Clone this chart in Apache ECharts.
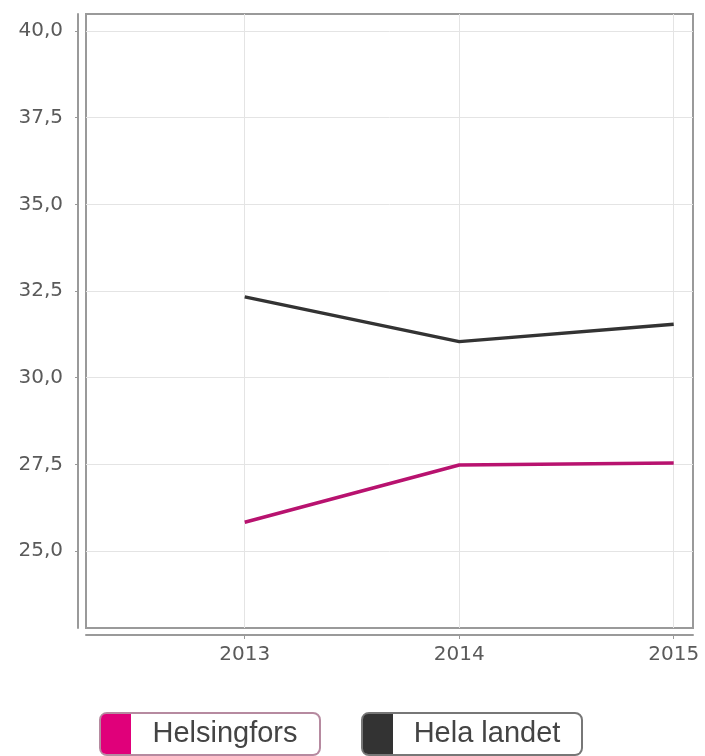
<!DOCTYPE html>
<html>
<head>
<meta charset="utf-8">
<script src="https://cdn.jsdelivr.net/npm/echarts@6/dist/echarts.min.js"></script>
<style>
  html, body { margin: 0; padding: 0; background: #fff; }
  #chart { width: 705px; height: 756px; }
</style>
</head>
<body>
<div id="chart"></div>
<script>
// data
var years = [2013, 2014, 2015];
var helsingfors = [25.83, 27.48, 27.54];
var helaLandet = [32.33, 31.04, 31.54];
var yTicks = [25, 27.5, 30, 32.5, 35, 37.5, 40];

var seriesNames = ['Helsingfors', 'Hela landet'];
var seriesColors = ['#b8126f', '#333333'];
var swatchColors = ['#e0007a', '#333333'];

function pairs(xs, ys) {
    var out = [];
    for (var i = 0; i < xs.length; i++) {
        out.push([xs[i], ys[i]]);
    }
    return out;
}

var chart = echarts.init(document.getElementById('chart'));

var option = {
    backgroundColor: '#fff',
    animation: false,
    grid: {
        left: 86,
        top: 14,
        right: 12,
        bottom: 128,
        show: true,
        borderColor: '#9a9a9a',
        borderWidth: 2,
        backgroundColor: '#fff'
    },
    xAxis: {
        type: 'value',
        min: 2012.26,
        max: 2015.09,
        offset: 7,
        axisLine: { show: true, lineStyle: { color: '#9a9a9a', width: 2 } },
        axisTick: { show: true, length: 4, customValues: years, lineStyle: { color: '#999' } },
        axisLabel: {
            customValues: years,
            color: '#5a5a5a',
            fontSize: 20,
            fontFamily: 'DejaVu Sans',
            margin: 10,
            formatter: function (v) { return String(Math.round(v)); }
        },
        splitLine: { show: true, lineStyle: { color: '#e4e4e4', width: 1 } }
    },
    yAxis: {
        type: 'value',
        min: 22.78,
        max: 40.49,
        offset: 8,
        axisLine: { show: true, lineStyle: { color: '#9a9a9a', width: 2 } },
        axisTick: { show: true, length: 3, customValues: yTicks, lineStyle: { color: '#999' } },
        axisLabel: {
            customValues: yTicks,
            color: '#5a5a5a',
            fontSize: 20,
            fontFamily: 'DejaVu Sans',
            margin: 15,
            formatter: function (v) { return v.toFixed(1).replace('.', ','); }
        },
        splitLine: { show: true, lineStyle: { color: '#e4e4e4', width: 1 } }
    },
    legend: {
        bottom: 0,
        left: 96,
        padding: 0,
        itemGap: 37,
        itemWidth: 0,
        itemHeight: 0,
        icon: 'rect',
        selectedMode: false,
        data: [
            { name: seriesNames[0], textStyle: { borderColor: '#b68aa0' } },
            { name: seriesNames[1], textStyle: { borderColor: '#777' } }
        ],
        formatter: function (name) {
            return name === seriesNames[0] ? '{h|}{t|' + name + '}' : '{k|}{t|' + name + '}';
        },
        textStyle: {
            borderWidth: 2,
            borderRadius: 6,
            padding: 0,
            backgroundColor: '#fff',
            rich: {
                h: { width: 30, height: 40, backgroundColor: swatchColors[0], borderRadius: [5, 0, 0, 5] },
                k: { width: 30, height: 40, backgroundColor: swatchColors[1], borderRadius: [5, 0, 0, 5] },
                t: {
                    fontSize: 29,
                    fontFamily: 'Liberation Sans',
                    color: '#444',
                    height: 40,
                    width: 188,
                    align: 'center'
                }
            }
        }
    },
    series: [
        {
            name: seriesNames[0],
            type: 'line',
            data: pairs(years, helsingfors),
            symbol: 'none',
            color: seriesColors[0],
            lineStyle: { width: 3.5, color: seriesColors[0] }
        },
        {
            name: seriesNames[1],
            type: 'line',
            data: pairs(years, helaLandet),
            symbol: 'none',
            color: seriesColors[1],
            lineStyle: { width: 3.5, color: seriesColors[1] }
        }
    ]
};

chart.setOption(option);
</script>
</body>
</html>
